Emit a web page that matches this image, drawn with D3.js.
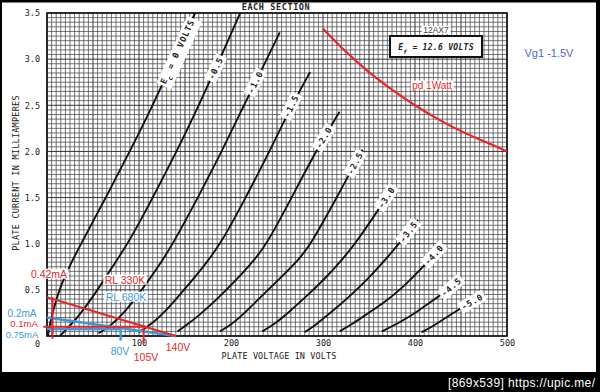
<!DOCTYPE html>
<html lang="en">
<head>
<meta charset="utf-8">
<title>12AX7 plate characteristics</title>
<script src="https://cdn.jsdelivr.net/npm/d3@7/dist/d3.min.js"></script>
<style>
  body { margin: 0; background: #fff; }
  svg { display: block; }
  .mono { font-family: "DejaVu Sans Mono", monospace; fill: #222; }
  .note { font-family: "Liberation Sans", Arial, sans-serif; font-size: 10.5px; }
</style>
</head>
<body>
<svg id="chart" width="600" height="392"></svg>
<script>
// plate curves, [plate volts, plate mA], one list per grid voltage
var biasLabels = ["0", "-0.5", "-1.0", "-1.5", "-2.0", "-2.5", "-3.0", "-3.5", "-4.0", "-4.5", "-5.0"];
var ec0   = [[1,0],[3,0.12],[6,0.25],[13,0.5],[24,0.75],[37,1.0],[64,1.5],[90,2.0],[115,2.5],[138,3.0],[161,3.5]];
var ecM05 = [[14,0],[22,0.08],[33,0.2],[43,0.33],[55,0.5],[71,0.75],[88,1.0],[115,1.5],[141,2.0],[165,2.5],[188,3.0],[210,3.5]];
var ecM10 = [[56,0.03],[68,0.1],[84,0.25],[103,0.5],[121,0.75],[137,1.0],[164,1.5],[190,2.0],[214,2.5],[239,3.0],[253,3.29]];
var ecM15 = [[100,0.04],[114,0.13],[130,0.28],[149,0.5],[170,0.75],[189,1.0],[216,1.5],[242,2.0],[266,2.5],[286,2.86]];
var ecM20 = [[142,0.05],[152,0.12],[166,0.23],[185,0.4],[205,0.6],[226,0.83],[239,1.0],[266,1.5],[292,2.0],[318,2.43]];
var ecM25 = [[188,0.05],[200,0.12],[215,0.25],[235,0.45],[255,0.64],[274,0.83],[287,1.0],[315,1.5],[343,2.02]];
var ecM30 = [[234,0.05],[246,0.12],[262,0.25],[282,0.43],[302,0.62],[321,0.83],[335,1.0],[359,1.35],[375,1.59]];
var ecM35 = [[280,0.04],[292,0.12],[308,0.25],[328,0.42],[350,0.63],[369,0.84],[386,1.04],[403,1.26]];
var ecM40 = [[318,0.05],[332,0.13],[348,0.24],[366,0.36],[384,0.5],[406,0.72],[429,0.97]];
var ecM45 = [[364,0.05],[384,0.15],[402,0.26],[420,0.39],[436,0.5],[451,0.63]];
var ecM50 = [[407,0.04],[422,0.12],[438,0.23],[455,0.33],[471,0.42]];
var curves = [ec0, ecM05, ecM10, ecM15, ecM20, ecM25, ecM30, ecM35, ecM40, ecM45, ecM50];
// plate current (mA) where each curve carries its label
var labelAt = [3.08, 2.9, 2.75, 2.49, 2.15, 1.87, 1.5, 1.13, 0.88, 0.53, 0.37];

var xTicks = [100, 200, 300, 400, 500];
var yTicks = [0.5, 1.0, 1.5, 2.0, 2.5, 3.0, 3.5];

// 1 watt plate dissipation
var pd1W = [[300,3.33],[325,3.08],[350,2.86],[375,2.67],[400,2.5],[425,2.35],[450,2.22],[475,2.11],[500,2.0]];

// hand drawn load lines and markers
var rl330 = [[0,0.42],[140,0]];
var rl680 = [[0,0.2],[140,0]];
var redMarks = [[[-4,0.1],[108,0.1]], [[105,0.12],[105,-0.08]], [[6,0.42],[6,-0.03]]];
var blueMarks = [[[0,0.075],[80,0.075]], [[80,0.1],[80,-0.05]]];

var RED = "#e5262d", BLUE = "#3b9ad8";

var svg = d3.select("#chart");
var x = d3.scaleLinear().domain([0, 500]).range([47, 507]);
var y = d3.scaleLinear().domain([0, 3.5]).range([336, 13]);

svg.append("rect").attr("width", 600).attr("height", 392).attr("fill", "#fff");

// graph paper
var grid = svg.append("g");
grid.selectAll("line.v").data(d3.range(0, 500.1, 5)).enter().append("line")
    .attr("x1", d => x(d)).attr("x2", d => x(d)).attr("y1", y(0)).attr("y2", y(3.5))
    .attr("stroke", d => d % 50 === 0 ? "#2a2a2a" : "#484848")
    .attr("stroke-width", d => d % 50 === 0 ? 0.95 : 0.75);
grid.selectAll("line.h").data(d3.range(0, 70.1, 1)).enter().append("line")
    .attr("x1", x(0)).attr("x2", x(500)).attr("y1", d => y(d * 0.05)).attr("y2", d => y(d * 0.05))
    .attr("stroke", d => d % 10 === 0 ? "#2a2a2a" : "#484848")
    .attr("stroke-width", d => d % 10 === 0 ? 0.95 : 0.75);
svg.append("rect").attr("x", x(0)).attr("y", y(3.5))
    .attr("width", x(500) - x(0)).attr("height", y(0) - y(3.5))
    .attr("fill", "none").attr("stroke", "#111").attr("stroke-width", 1.6);

// axes
var yAxis = svg.append("g").attr("transform", "translate(" + x(0) + ",0)")
    .call(d3.axisLeft(y).tickValues(yTicks).tickFormat(d3.format(".1f")).tickSize(0).tickPadding(7));
var xAxis = svg.append("g").attr("transform", "translate(0," + y(0) + ")")
    .call(d3.axisBottom(x).tickValues(xTicks).tickFormat(d3.format("d")).tickSize(0).tickPadding(4));
[yAxis, xAxis].forEach(function(a) {
  a.select(".domain").remove();
  a.selectAll("text").attr("class", "mono").style("font-size", "8.5px");
});
svg.append("text").attr("class", "mono").attr("x", 40).attr("y", 347)
    .attr("text-anchor", "end").style("font-size", "8.5px").text("0");

svg.append("text").attr("class", "mono").attr("x", 279).attr("y", 359)
    .attr("text-anchor", "middle").style("font-size", "8.5px").style("letter-spacing", "0.1px")
    .text("PLATE VOLTAGE IN VOLTS");
svg.append("text").attr("class", "mono")
    .attr("transform", "translate(19,173) rotate(-90)")
    .attr("text-anchor", "middle").style("font-size", "8.5px").style("letter-spacing", "0.25px")
    .text("PLATE CURRENT IN MILLIAMPERES");
svg.append("text").attr("class", "mono").attr("x", 276).attr("y", 9.5)
    .attr("text-anchor", "middle").style("font-size", "8.5px").style("font-weight", "bold")
    .style("letter-spacing", "0.6px").text("EACH SECTION");

// tube curves
var line = d3.line().x(d => x(d[0])).y(d => y(d[1])).curve(d3.curveBasis);
svg.append("clipPath").attr("id", "plot").append("rect")
    .attr("x", x(0)).attr("y", y(3.5)).attr("width", x(500) - x(0)).attr("height", y(0) - y(3.5));
svg.append("g").attr("clip-path", "url(#plot)")
    .selectAll("path").data(curves).enter().append("path")
    .attr("d", line).attr("fill", "none").attr("stroke", "#111").attr("stroke-width", 1.9);

// curve labels on a white patch, turned along the curve
function onCurve(pts, ma) {
  for (var i = 0; i < pts.length - 1; i++) {
    var a = pts[i], b = pts[i + 1];
    if (ma >= a[1] && ma <= b[1]) {
      var t = (ma - a[1]) / (b[1] - a[1]);
      var v = a[0] + t * (b[0] - a[0]);
      var ang = Math.atan2(y(b[1]) - y(a[1]), x(b[0]) - x(a[0])) * 180 / Math.PI;
      return [x(v), y(ma), ang];
    }
  }
  var last = pts[pts.length - 1];
  return [x(last[0]), y(last[1]), -60];
}
curves.forEach(function(pts, i) {
  var p = onCurve(pts, labelAt[i]);
  var g = svg.append("g").attr("transform", "translate(" + p[0] + "," + p[1] + ") rotate(" + p[2] + ")");
  var r = g.append("rect").attr("fill", "#fff");
  var t = g.append("text").attr("class", "mono").attr("text-anchor", "middle").attr("dy", "0.35em")
      .style("font-size", "8.5px").style("font-weight", "bold").style("letter-spacing", "0.8px");
  if (i === 0) {
    t.append("tspan").text("E");
    t.append("tspan").attr("baseline-shift", "sub").style("font-size", "6.5px").text("c");
    t.append("tspan").text(" = 0 VOLTS");
  } else {
    t.text(biasLabels[i]);
  }
  var bb = t.node().getBBox();
  r.attr("x", bb.x - 2).attr("y", bb.y - 1).attr("width", bb.width + 4).attr("height", bb.height + 2);
});

// text on a small white patch
function patchText(tx, ty, str, size, color) {
  var r = svg.append("rect").attr("fill", "#fff");
  var t = svg.append("text").attr("class", "note").attr("x", tx).attr("y", ty)
      .attr("text-anchor", "middle").attr("dy", "0.35em")
      .style("font-size", size + "px").style("fill", color).text(str);
  var bb = t.node().getBBox();
  r.attr("x", bb.x - 1.5).attr("y", bb.y + 1).attr("width", bb.width + 3).attr("height", bb.height - 2);
  return t;
}

patchText(436, 30, "12AX7", 8.5, "#444");
svg.append("rect").attr("x", 390).attr("y", 36).attr("width", 92).attr("height", 21)
    .attr("fill", "#fff").attr("stroke", "#111").attr("stroke-width", 2);
var ef = svg.append("text").attr("class", "mono").attr("x", 436).attr("y", 49.5)
    .attr("text-anchor", "middle").style("font-size", "8px").style("font-weight", "bold")
    .style("font-style", "italic").style("letter-spacing", "0.3px");
ef.append("tspan").text("E");
ef.append("tspan").attr("baseline-shift", "sub").style("font-size", "6px").text("f");
ef.append("tspan").text(" = 12.6 VOLTS");

svg.append("path").datum(pd1W).attr("d", d3.line().x(d => x(d[0])).y(d => y(d[1])).curve(d3.curveMonotoneX))
    .attr("fill", "none").attr("stroke", RED).attr("stroke-width", 2.2);
patchText(432, 85, "pd 1Watt", 10, RED);

svg.append("text").attr("class", "note").attr("x", 549).attr("y", 57)
    .attr("text-anchor", "middle").style("font-size", "11px").style("fill", "#5167c4")
    .text("Vg1 -1.5V");

// load lines
var straight = d3.line().x(d => x(d[0])).y(d => y(d[1]));
svg.append("path").datum(rl680).attr("d", straight).attr("stroke", BLUE).attr("stroke-width", 2.6).attr("fill", "none");
blueMarks.forEach(function(m) {
  svg.append("path").datum(m).attr("d", straight).attr("stroke", BLUE).attr("stroke-width", 2.4).attr("fill", "none");
});
svg.append("path").datum(rl330).attr("d", straight).attr("stroke", RED).attr("stroke-width", 2).attr("fill", "none");
redMarks.forEach(function(m) {
  svg.append("path").datum(m).attr("d", straight).attr("stroke", RED).attr("stroke-width", 2).attr("fill", "none");
});

patchText(49, 274, "0.42mA", 10.5, RED);
patchText(125, 280, "RL 330K", 10.5, RED);
patchText(126, 297, "RL 680K", 10.5, BLUE);
patchText(22, 313, "0.2mA", 10, BLUE);
patchText(24, 323.8, "0.1mA", 9.5, RED);
patchText(22, 334.8, "0.75mA", 9.5, BLUE);
patchText(120, 351, "80V", 10.5, BLUE);
patchText(146, 357.5, "105V", 10.5, RED);
patchText(178, 347.5, "140V", 10.5, RED);

// scan frame and host stamp
svg.append("rect").attr("x", 0).attr("y", 0).attr("width", 600).attr("height", 2.5).attr("fill", "#000");
svg.append("rect").attr("x", 0).attr("y", 0).attr("width", 2).attr("height", 392).attr("fill", "#000");
svg.append("rect").attr("x", 596).attr("y", 0).attr("width", 4).attr("height", 392).attr("fill", "#000");
svg.append("rect").attr("x", 0).attr("y", 372).attr("width", 600).attr("height", 20).attr("fill", "#000");
svg.append("text").attr("x", 595).attr("y", 387).attr("text-anchor", "end")
    .attr("textLength", 147).style("font-family", "\"Liberation Sans\", sans-serif")
    .style("font-size", "12px").style("fill", "#fff").text("[869x539] https://upic.me/");
</script>
</body>
</html>
